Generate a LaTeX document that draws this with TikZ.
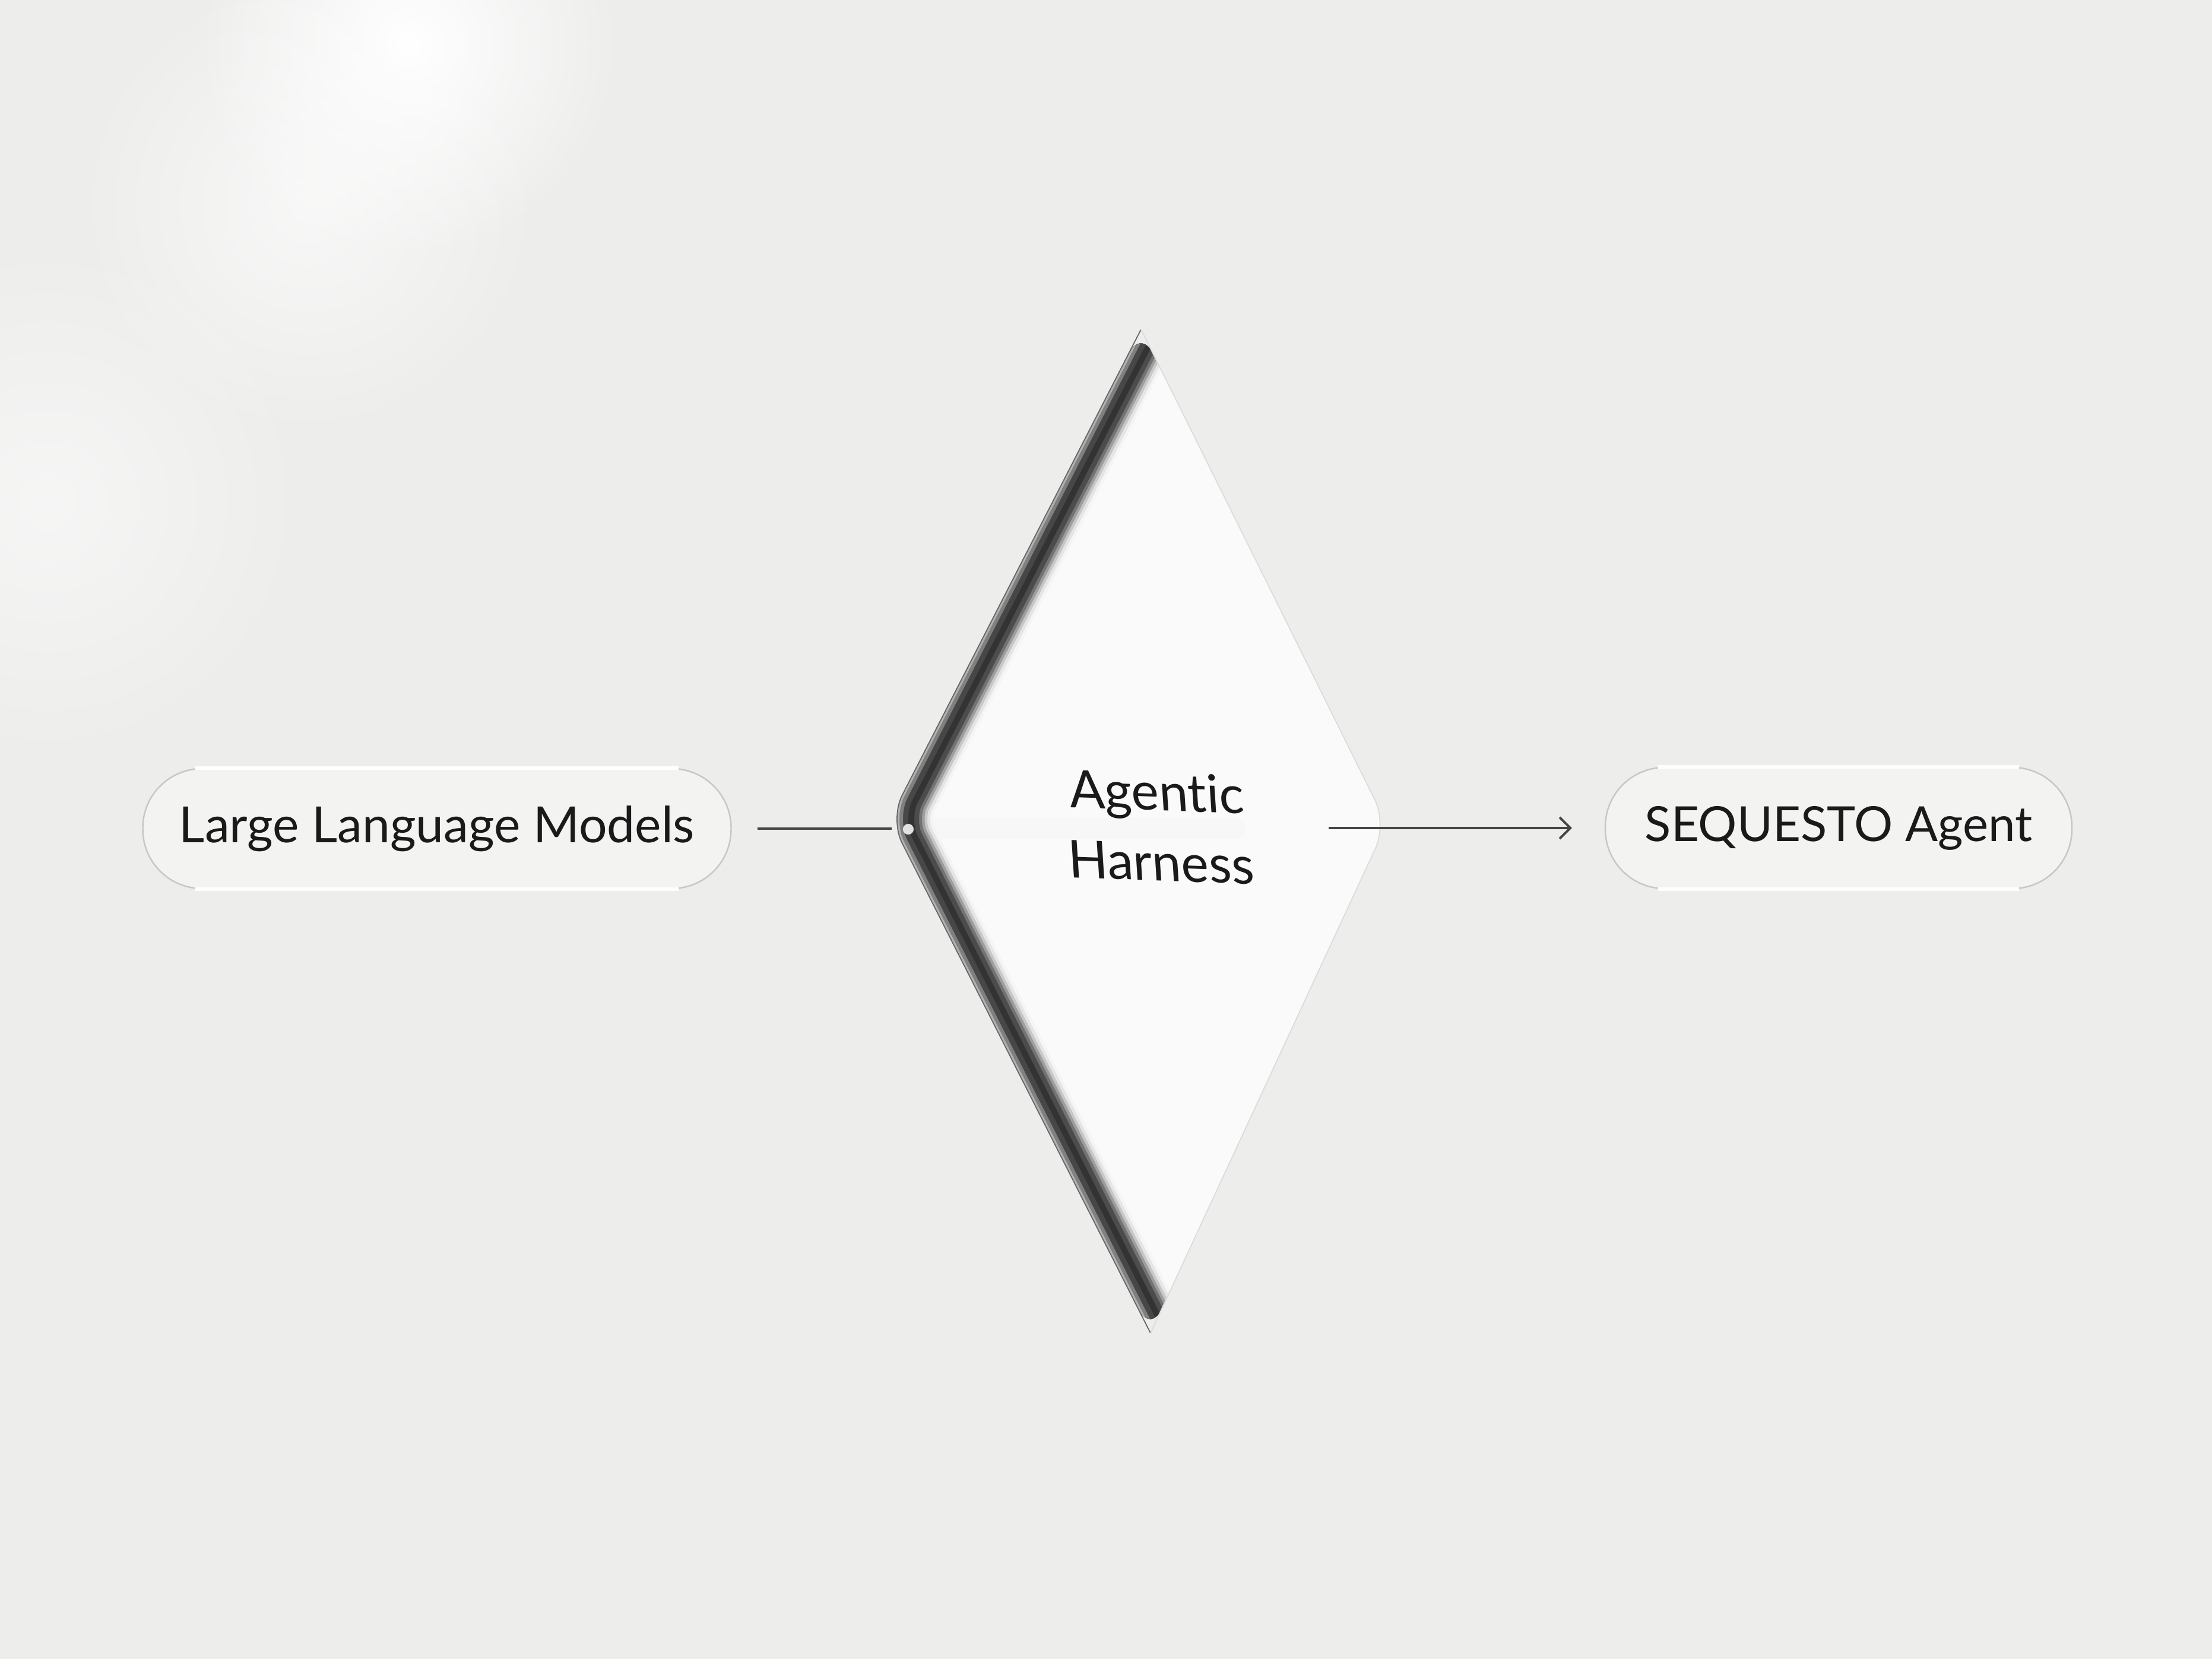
\documentclass[tikz,border=0pt]{standalone}
\usepackage{fontspec}
\setmainfont{Lato}[Ligatures=NoCommon]
\usetikzlibrary{positioning}
\usetikzlibrary{arrows.meta,fadings}
\usetikzlibrary{calc}

\definecolor{bgray}{HTML}{EDEDEC}
\definecolor{pillfill}{HTML}{F3F3F2}
\definecolor{ink}{HTML}{1A1A1A}
\definecolor{wire}{HTML}{454545}

\tikzfading[name=glowfade, inner color=transparent!0, outer color=transparent!100]

\tikzset{
  pill/.style={rectangle, rounded corners=1cm, draw=black!22, line width=0.7pt,
    fill=pillfill, text=ink, font=\fontsize{23.9}{29}\selectfont, inner sep=0pt},
  wirel/.style={wire, line width=1.1pt},
  glare/.style={white, line width=1.8pt},
  band/.style={line width=#1, rounded corners=0.45cm},
}

\begin{document}
\begin{tikzpicture}
\useasboundingbox (0,0) rectangle (37.26,27.95);
\fill[bgray](0,0) rectangle (37.26,27.95);
%soft light upper left
\fill[white, opacity=0.5, path fading=glowfade](0.8,19.5) circle (4.5);
\fill[white, path fading=glowfade](6.9,27.2) circle (3.6);
\fill[white, opacity=0.6, path fading=glowfade](5.2,24.5) circle (4);

\node[pill, minimum width=9.91cm, minimum height=2.02cm] (llm) at (7.36,13.99) {Large Language Models};
\node[pill, minimum width=7.86cm, minimum height=2.04cm, font=\fontsize{23.2}{29}\selectfont] (agent) at (30.97,14.0) {SEQUESTO Agent};
\draw[glare] ([xshift=0.9cm]llm.north west) -- ([xshift=-0.9cm]llm.north east);
\draw[glare] ([xshift=0.9cm]llm.south west) -- ([xshift=-0.9cm]llm.south east);
\draw[glare] ([xshift=0.9cm]agent.north west) -- ([xshift=-0.9cm]agent.north east);
\draw[glare] ([xshift=0.9cm]agent.south west) -- ([xshift=-0.9cm]agent.south east);

%the glass diamond
\coordinate (htop) at (19.22,22.40);
\coordinate (hleft) at (14.99,14.15);
\coordinate (hbot) at (19.38,5.49);
\coordinate (hright) at (23.36,14.07);
\coordinate (hin) at (15.02,13.99);
\coordinate (hmid) at (20.8,13.99);
\coordinate (hout) at (22.38,14.0);

\draw[wirel] ([xshift=0.43cm]llm.east) -- (hin);

\fill[white!98!black, rounded corners=0.45cm] (htop) -- (hright) -- (hbot) -- (hleft) -- cycle;
\begin{scope}
\clip[rounded corners=0.45cm] (htop) -- (hright) -- (hbot) -- (hleft) -- cycle;
\draw[black!3, line width=10pt, line cap=round] (hin) -- (hmid);
\draw[black!4, band=1.22cm] (htop) -- (hleft) -- (hbot);
\draw[black!10, band=1.12cm] (htop) -- (hleft) -- (hbot);
\draw[black!22, band=1.02cm] (htop) -- (hleft) -- (hbot);
\draw[black!38, band=0.93cm] (htop) -- (hleft) -- (hbot);
\draw[black!55, band=0.84cm] (htop) -- (hleft) -- (hbot);
\draw[black!70, band=0.74cm] (htop) -- (hleft) -- (hbot);
\draw[black!80, band=0.58cm] (htop) -- (hleft) -- (hbot);
\draw[black!72, band=0.38cm] (htop) -- (hleft) -- (hbot);
\draw[black!50, band=0.20cm] (htop) -- (hleft) -- (hbot);
\draw[black!30, band=0.08cm] (htop) -- (hleft) -- (hbot);
\end{scope}
\draw[black!60, band=0.5pt] (htop) -- (hleft) -- (hbot);
\draw[black!14, band=0.5pt] (htop) -- (hright) -- (hbot);
\fill[white, opacity=0.85] (15.3,13.98) circle (0.09);

\node[text=ink, font=\fontsize{25}{33.7}\selectfont, align=center, rotate=-2, xslant=-0.1] (harn) at (19.52,14.02) {Agentic\\Harness};

\draw[wirel, -{Straight Barb[length=0.18cm, width=0.36cm]}] (hout) -- ([xshift=-0.55cm]agent.west);
\end{tikzpicture}
\end{document}
